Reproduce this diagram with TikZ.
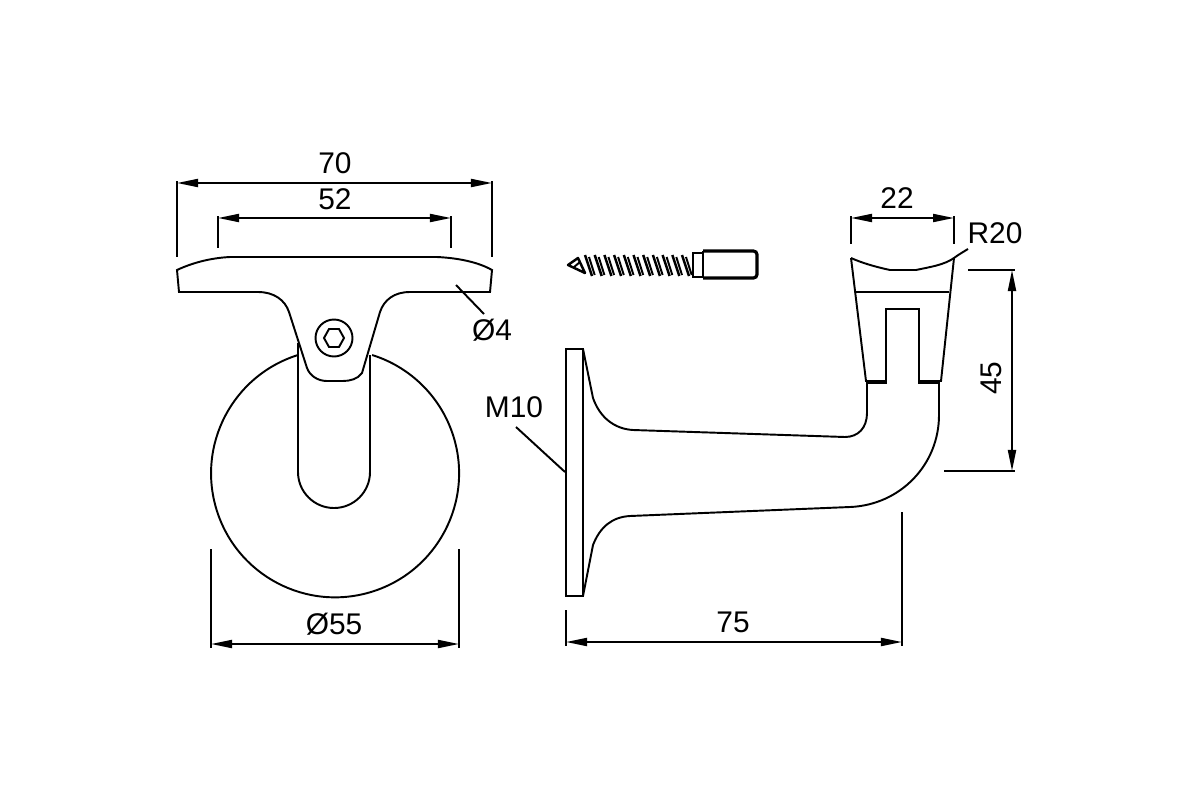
\documentclass[tikz,border=0pt]{standalone}
\usepackage{fontspec}
\setmainfont{Liberation Sans}
\usetikzlibrary{arrows.meta}
\begin{document}
\begin{tikzpicture}[x=0.01cm,y=-0.01cm,line width=0.55pt,
    >={Triangle[length=0.21cm,width=0.08cm]},
    dimtext/.style={font=\fontsize{8.5}{10}\selectfont,inner sep=0pt}]
    \useasboundingbox (0,0) rectangle (1200,800);

    % front view
    \draw (230,257)--(437,257) .. controls (458,258) and (478,262) .. (492,270)
        --(490,292)--(410,292) .. controls (394,292) and (384,300) .. (380,312)
        --(362,373) .. controls (358,379) and (350,381) .. (343,381)--(327,381)
        .. controls (318,381) and (310,376) .. (307,368)
        --(289,312) .. controls (285,300) and (274,292) .. (258,292)
        --(179,292)--(177,270) .. controls (192,263) and (210,258) .. (230,257);
    \draw (334,338) circle (18.5);
    \draw (324,338)--(329,329)--(339,329)--(344,338)--(339,347)--(329,347)--cycle;
    \draw (298,343)--(298,472) arc(180:0:36)--(370,355);
    \draw (298,355) arc(252.6:-72.6:124);

    \draw[<->] (177,183)--(492,183);
    \draw (177,181)--(177,257);
    \draw (492,181)--(492,257);
    \node[dimtext] (lenA) at (335,163) {70};
    \draw[<->] (218,218)--(451,218);
    \draw (218,216)--(218,248);
    \draw (451,216)--(451,248);
    \node[dimtext] (lenB) at (335,199) {52};
    \draw (456,285)--(484,314);
    \node[dimtext] (holeA) at (492,330) {Ø4};
    \draw[<->] (211,644)--(459,644);
    \draw (211,549)--(211,648);
    \draw (459,549)--(459,648);
    \node[dimtext] (discA) at (334,624) {Ø55};

    % screw
    \draw[line width=0.7pt,line join=round] (568,265)--(578,258)--(585,273)--cycle;
    \draw (574,267)--(580,262);
    \foreach \x in {585,594.7,...,686}
        {
        \draw[line width=0.7pt] (\x,255)--(\x+7,276);
        \draw (\x+4,257)--(\x+9.7,275);
        }
    \draw (692,253)--(703,253);
    \draw (692,277)--(703,277);
    \draw (693,253)--(693,277);
    \draw[line width=0.35pt] (703,251)--(703,278);
    \draw[line width=0.9pt,rounded corners=1] (703,251)--(757,251)--(757,278)--(703,278);

    % side view
    \draw (566,349) rectangle (583,596);
    \draw (583,349)--(593,398) .. controls (600,418) and (615,429) .. (633,430)
        --(845,437) .. controls (858,437) and (867,428) .. (867,413)--(867,382);
    \draw (583,596)--(593,545) .. controls (600,527) and (612,517) .. (630,516)
        --(850,507) .. controls (900,505) and (939,465) .. (939,415)--(939,382);
    \draw (851,258) .. controls (862,263) and (876,267) .. (890,270)--(916,270)
        .. controls (930,267) and (944,265) .. (954,258)
        .. controls (958,255) and (963,252) .. (968,249);
    \draw (851,258)--(866,381)--(886,381);
    \draw (954,258)--(941,381)--(919,381);
    \draw (856,292)--(949,292);
    \draw (867,383)--(886,383)--(886,309)--(919,309)--(919,383)--(939,383);
    \draw (516,427)--(565,472);
    \node[dimtext] (threadA) at (514,407) {M10};

    \draw[<->] (851,218)--(954,218);
    \draw (851,216)--(851,244);
    \draw (954,216)--(954,244);
    \node[dimtext] (lenC) at (897,198) {22};
    \node[dimtext] (radA) at (995,233) {R20};
    \draw[<->] (1012,270)--(1012,471);
    \draw (968,270)--(1015,270);
    \draw (944,471)--(1015,471);
    \node[dimtext,rotate=90] (lenD) at (991,378) {45};
    \draw[<->] (566,642)--(902,642);
    \draw (566,610)--(566,646);
    \draw (902,512)--(902,646);
    \node[dimtext] (lenE) at (733,622) {75};
\end{tikzpicture}
\end{document}
